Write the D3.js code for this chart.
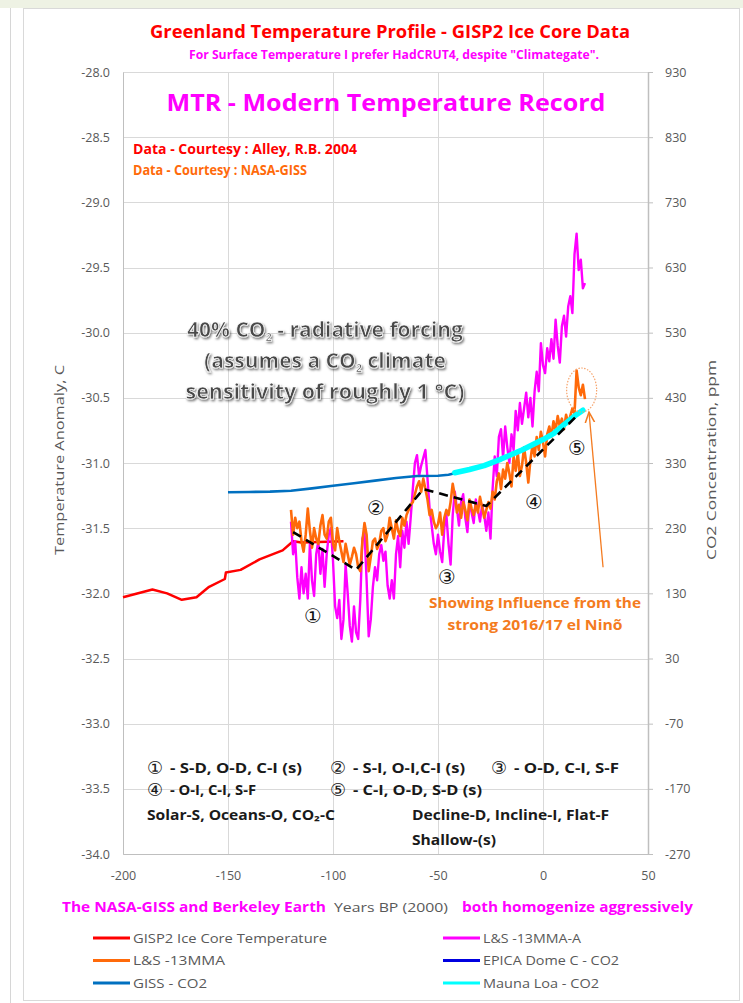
<!DOCTYPE html>
<html>
<head>
<meta charset="utf-8">
<script src="https://cdn.jsdelivr.net/npm/d3@7"></script>
<style>
  body { margin: 0; background: #fff; }
  svg { display: block; font-family: "Open Sans", "DejaVu Sans", sans-serif; }
</style>
</head>
<body>
<svg id="chart" width="743" height="1003"></svg>
<script>
// GISP2 ice core temperature (Alley 2004)
var gispYears = [-200, -186, -179, -172, -165, -159, -151.5, -151, -144, -135, -124, -119, -115, -95];
var gispTemp  = [-32.03, -31.97, -32.0, -32.05, -32.03, -31.95, -31.89, -31.84, -31.82, -31.74, -31.67, -31.60, -31.61, -31.60];

// L&S 13 month moving average, yearly readings from -120 to 20
var lsYears = d3.range(-120, 21);
var ls13mma = [
  -31.36,-31.55,-31.42,-31.50,-31.45,-31.60,-31.68,-31.55,-31.35,-31.52,
  -31.65,-31.50,-31.58,-31.62,-31.48,-31.40,-31.55,-31.58,-31.45,-31.42,
  -31.62,-31.67,-31.50,-31.60,-31.68,-31.76,-31.62,-31.70,-31.78,-31.72,
  -31.65,-31.70,-31.80,-31.83,-31.60,-31.46,-31.55,-31.83,-31.72,-31.60,
  -31.58,-31.66,-31.62,-31.52,-31.50,-31.60,-31.55,-31.42,-31.50,-31.58,
  -31.44,-31.52,-31.56,-31.42,-31.48,-31.40,-31.36,-31.32,-31.30,-31.24,
  -31.18,-31.14,-31.22,-31.12,-31.20,-31.28,-31.40,-31.36,-31.45,-31.50,
  -31.47,-31.38,-31.55,-31.42,-31.36,-31.40,-31.30,-31.16,-31.25,-31.38,
  -31.32,-31.42,-31.30,-31.36,-31.44,-31.28,-31.35,-31.40,-31.32,-31.38,
  -31.26,-31.34,-31.42,-31.36,-31.30,-31.35,-31.22,-31.28,-31.14,-31.08,
  -31.20,-31.05,-31.12,-31.00,-31.08,-31.18,-30.95,-31.06,-30.92,-31.10,
  -31.02,-30.88,-31.00,-31.15,-30.98,-30.86,-30.95,-30.80,-30.90,-30.76,
  -30.84,-30.95,-30.78,-30.72,-30.80,-30.68,-30.75,-30.64,-30.72,-30.66,
  -30.74,-30.63,-30.70,-30.64,-30.58,-30.62,-30.29,-30.42,-30.48,-30.40,
  -30.51
];
var ls13mmaA = [
  -31.45,-31.70,-31.60,-31.88,-32.04,-31.80,-32.00,-31.85,-32.04,-31.62,
  -31.90,-32.02,-31.70,-31.60,-31.85,-31.66,-31.95,-31.70,-31.55,-31.50,
  -31.75,-32.10,-32.19,-32.05,-32.35,-32.20,-31.78,-32.00,-32.25,-32.37,
  -32.10,-32.30,-32.35,-32.05,-31.58,-31.53,-31.90,-32.33,-32.20,-31.95,
  -31.80,-31.90,-31.70,-31.63,-31.75,-31.68,-31.94,-32.04,-31.90,-32.04,
  -31.70,-31.56,-31.80,-31.52,-31.65,-31.45,-31.62,-31.42,-31.20,-31.00,
  -30.94,-31.10,-31.02,-30.96,-30.90,-31.12,-31.35,-31.48,-31.62,-31.70,
  -31.55,-31.68,-31.76,-31.50,-31.40,-31.62,-31.78,-31.40,-31.22,-31.35,
  -31.48,-31.30,-31.24,-31.42,-31.53,-31.30,-31.38,-31.46,-31.28,-31.36,
  -31.45,-31.32,-31.40,-31.52,-31.38,-31.58,-31.20,-30.95,-31.10,-30.80,
  -30.74,-30.96,-30.72,-30.88,-31.00,-30.78,-30.90,-30.60,-30.75,-30.54,
  -30.70,-30.58,-30.46,-30.65,-30.50,-30.72,-30.45,-30.30,-30.45,-30.08,
  -30.25,-30.31,-30.12,-30.22,-30.05,-30.20,-29.90,-30.10,-30.23,-29.95,
  -29.87,-30.03,-29.80,-29.72,-29.85,-29.40,-29.24,-29.52,-29.44,-29.66,
  -29.62
];

// CO2 (right axis, ppm)
var gissYears = [-150, -140, -130, -120, -110, -100, -90, -80, -70, -60, -50, -45, -41];
var gissCO2   = [285, 285.5, 286, 287.5, 291, 295, 299, 303, 307, 310, 310.5, 312, 315];
var maunaYears = [-42, -35, -28, -20, -10, 0, 5, 10, 15, 19];
var maunaCO2   = [315, 320, 326, 336, 350, 366, 375, 389, 402, 411];

// dashed trend
var trendYears = [-119, -89, -57, -27, 16];
var trendTemp  = [-31.53, -31.82, -31.20, -31.33, -30.64];

// axes
var xTicks = [-200, -150, -100, -50, 0, 50];
var yTicks = d3.range(-34, -27.99, 0.5);
var y2Ticks = d3.range(-270, 931, 100);

// legend
var legendNames  = ["GISP2 Ice Core Temperature", "L&S -13MMA-A", "L&S -13MMA", "EPICA Dome C - CO2", "GISS - CO2", "Mauna Loa - CO2"];
var legendColors = ["#ff0000", "#ff00ff", "#ff6a0a", "#0000e0", "#0070c0", "#00ffff"];

var svg = d3.select("#chart");

var x = d3.scaleLinear().domain([-200, 50]).range([123, 648]);
var y = d3.scaleLinear().domain([-34, -28]).range([854, 72]);
var y2 = d3.scaleLinear().domain([-270, 930]).range([854, 72]);

// stretch text to a measured width
function fit(sel, w) {
  return sel.attr("textLength", w).attr("lengthAdjust", "spacingAndGlyphs");
}

// page frame
svg.append("rect").attr("x", 0).attr("y", 0).attr("width", 743).attr("height", 8).attr("fill", "#eef2e4");
svg.append("line").attr("x1", 10.5).attr("x2", 10.5).attr("y1", 8).attr("y2", 1003).attr("stroke", "#d6d6d6");
svg.append("rect").attr("x", 23.5).attr("y", 8.5).attr("width", 716).attr("height", 992)
  .attr("fill", "#fff").attr("stroke", "#d9d9d9");

// shadow filter for the big note
var defs = svg.append("defs");
var f = defs.append("filter").attr("id", "shadow").attr("x", "-10%").attr("y", "-30%").attr("width", "120%").attr("height", "160%");
f.append("feDropShadow").attr("dx", 1.2).attr("dy", 1.8).attr("stdDeviation", 1.1)
  .attr("flood-color", "#000").attr("flood-opacity", 0.55);
defs.append("marker").attr("id", "arrow").attr("viewBox", "0 0 10 10").attr("refX", 9).attr("refY", 5)
  .attr("markerWidth", 9).attr("markerHeight", 9).attr("orient", "auto")
  .append("path").attr("d", "M0,1 L9,5 L0,9").attr("fill", "none").attr("stroke", "#f47b20").attr("stroke-width", 1.3);

// gridlines
svg.append("g").selectAll("line").data(yTicks).join("line")
  .attr("x1", 123).attr("x2", 648).attr("y1", d => Math.round(y(d)) + 0.5).attr("y2", d => Math.round(y(d)) + 0.5)
  .attr("stroke", "#d9d9d9");
svg.append("g").selectAll("line").data(xTicks).join("line")
  .attr("x1", d => Math.round(x(d)) + 0.5).attr("x2", d => Math.round(x(d)) + 0.5).attr("y1", 72).attr("y2", 854)
  .attr("stroke", "#d9d9d9");

// axes
var gl = svg.append("g").attr("transform", "translate(123,0)")
  .call(d3.axisLeft(y).tickValues(yTicks).tickFormat(d => d.toFixed(1)).tickSize(0).tickPadding(13));
var gr = svg.append("g").attr("transform", "translate(648,0)")
  .call(d3.axisRight(y2).tickValues(y2Ticks).tickFormat(d => d).tickSizeInner(5).tickSizeOuter(0).tickPadding(12));
var gb = svg.append("g").attr("transform", "translate(0,854)")
  .call(d3.axisBottom(x).tickValues(xTicks).tickFormat(d => d).tickSize(0).tickPadding(17));
[gl, gr, gb].forEach(function(g) {
  g.select(".domain").attr("stroke", "#bfbfbf");
  g.selectAll(".tick line").attr("stroke", "#bfbfbf");
  g.selectAll("text").attr("fill", "#595959").style("font-size", "12.5px").style("font-family", "'Open Sans', sans-serif");
});
gr.select(".domain").attr("stroke-width", 1.5);

// axis titles
svg.append("text").attr("transform", "translate(64,460) rotate(-90)").attr("text-anchor", "middle")
  .attr("fill", "#595959").style("font-size", "13px").text("Temperature Anomaly, C")
  .call(fit, 190);
svg.append("text").attr("transform", "translate(716,460) rotate(-90)").attr("text-anchor", "middle")
  .attr("fill", "#595959").style("font-size", "13px").text("CO2 Concentration, ppm")
  .call(fit, 200);

// series
var plot = svg.append("g");
function drawLine(xs, vs, ys, color, w) {
  var pts = xs.map((d, i) => [d, vs[i]]);
  return plot.append("path").datum(pts)
    .attr("fill", "none").attr("stroke", color).attr("stroke-width", w).attr("stroke-linejoin", "round")
    .attr("d", d3.line().x(d => x(d[0])).y(d => ys(d[1])));
}
drawLine(gispYears, gispTemp, y, "#ff0000", 2.5);
drawLine(lsYears, ls13mmaA, y, "#ff00ff", 2.4);
drawLine(lsYears, ls13mma, y, "#ff6a0a", 2.6);
drawLine(gissYears, gissCO2, y2, "#0070c0", 2.6);
drawLine(maunaYears, maunaCO2, y2, "#00ffff", 5.5).attr("stroke-linecap", "round");
drawLine(trendYears, trendTemp, y, "#000", 2.6).attr("stroke-dasharray", "9,6");

// el Nino highlight
plot.append("ellipse").attr("cx", x(18.4)).attr("cy", y(-30.44)).attr("rx", 15).attr("ry", 22)
  .attr("fill", "none").attr("stroke", "#f6a26a").attr("stroke-width", 1.2).attr("stroke-dasharray", "1.5,1.5");
plot.append("line").attr("x1", x(28.6)).attr("y1", y(-31.80)).attr("x2", x(21.9)).attr("y2", y(-30.61))
  .attr("stroke", "#f47b20").attr("stroke-width", 1.3).attr("marker-end", "url(#arrow)");

// circled phase numbers
var circ = [["①", -109.5, -32.17], ["②", -79.5, -31.34], ["③", -45.7, -31.87], ["④", -4.3, -31.30], ["⑤", 16.2, -30.88]];
plot.selectAll(".circ").data(circ).join("text").attr("class", "circ")
  .attr("x", d => x(d[1])).attr("y", d => y(d[2])).attr("dy", "0.36em").attr("text-anchor", "middle")
  .style("font-family", "'DejaVu Sans', sans-serif").style("font-size", "20px").attr("fill", "#111")
  .text(d => d[0]);

// titles
svg.append("text").attr("x", 390).attr("y", 38).attr("text-anchor", "middle").attr("fill", "#ff0000")
  .style("font-size", "17px").style("font-weight", "bold")
  .text("Greenland Temperature Profile - GISP2 Ice Core Data").call(fit, 480);
svg.append("text").attr("x", 394).attr("y", 59).attr("text-anchor", "middle").attr("fill", "#ff00ff")
  .style("font-size", "11.5px").style("font-weight", "bold")
  .text("For Surface Temperature I prefer HadCRUT4, despite \"Climategate\".").call(fit, 410);
svg.append("text").attr("x", 386).attr("y", 111).attr("text-anchor", "middle").attr("fill", "#ff00ff")
  .style("font-size", "24px").style("font-weight", "bold")
  .text("MTR - Modern Temperature Record").call(fit, 439);
svg.append("text").attr("x", 133).attr("y", 154).attr("fill", "#ff0000")
  .style("font-size", "13.5px").style("font-weight", "bold")
  .text("Data - Courtesy : Alley, R.B. 2004").call(fit, 224);
svg.append("text").attr("x", 133).attr("y", 175).attr("fill", "#ff6a0a")
  .style("font-size", "13.5px").style("font-weight", "bold")
  .text("Data - Courtesy : NASA-GISS").call(fit, 174);

// CO2 forcing note
var note = svg.append("g").attr("filter", "url(#shadow)")
  .style("font-size", "21px").style("font-weight", "bold").attr("fill", "#4a4a4a")
  .attr("stroke", "#fff").attr("stroke-width", 0.7).attr("paint-order", "fill").attr("text-anchor", "middle");
var n1 = note.append("text").attr("x", 325).attr("y", 337);
n1.append("tspan").text("40% CO");
n1.append("tspan").attr("dy", 4).style("font-size", "11px").text("2");
n1.append("tspan").attr("dy", -4).text("  - radiative forcing");
var n2 = note.append("text").attr("x", 325).attr("y", 368);
n2.append("tspan").text("(assumes a CO");
n2.append("tspan").attr("dy", 4).style("font-size", "11px").text("2");
n2.append("tspan").attr("dy", -4).text(" climate");
note.append("text").attr("x", 325).attr("y", 399).text("sensitivity of roughly 1 °C)").call(fit, 279);

// el Nino note
svg.append("text").attr("x", 535).attr("y", 608).attr("text-anchor", "middle").attr("fill", "#f47b20")
  .style("font-size", "14.5px").style("font-weight", "bold").text("Showing Influence from the").call(fit, 212);
svg.append("text").attr("x", 535).attr("y", 630).attr("text-anchor", "middle").attr("fill", "#f47b20")
  .style("font-size", "14.5px").style("font-weight", "bold").text("strong 2016/17 el Ninõ").call(fit, 175);

// phase key: circled digit + description
var keyDigits = [["①", 147, 773], ["②", 330, 773], ["③", 491, 773], ["④", 147, 795], ["⑤", 330, 795]];
var keyTexts = [
  ["- S-D, O-D, C-I (s)", 170, 773, 132],
  ["- S-I, O-I,C-I (s)", 353, 773, 112],
  ["- O-D, C-I, S-F", 514, 773, 105],
  ["- O-I, C-I, S-F", 170, 795, 86],
  ["- C-I, O-D, S-D (s)", 353, 795, 129],
  ["Solar-S, Oceans-O, CO₂-C", 147, 820, 188],
  ["Decline-D, Incline-I, Flat-F", 412, 820, 197],
  ["Shallow-(s)", 412, 845, 84]
];
svg.append("g").selectAll("text").data(keyDigits).join("text")
  .attr("x", d => d[1]).attr("y", d => d[2] + 1).attr("fill", "#1a1a1a")
  .style("font-family", "'DejaVu Sans', sans-serif").style("font-size", "18px")
  .text(d => d[0]);
svg.append("g").selectAll("text").data(keyTexts).join("text")
  .attr("x", d => d[1]).attr("y", d => d[2]).attr("fill", "#1a1a1a")
  .style("font-size", "14px").style("font-weight", "bold")
  .text(d => d[0])
  .attr("textLength", d => d[3]).attr("lengthAdjust", "spacingAndGlyphs");

// bottom caption line
svg.append("text").attr("x", 62).attr("y", 912).attr("fill", "#ff00ff")
  .style("font-size", "14.5px").style("font-weight", "bold").text("The NASA-GISS and Berkeley Earth").call(fit, 264);
svg.append("text").attr("x", 334).attr("y", 912).attr("fill", "#595959")
  .style("font-size", "13.5px").text("Years BP (2000)").call(fit, 114);
svg.append("text").attr("x", 462).attr("y", 912).attr("fill", "#ff00ff")
  .style("font-size", "14.5px").style("font-weight", "bold").text("both homogenize aggressively").call(fit, 231);

// legend
var legW = [194, 98, 92, 136, 74, 116];
var leg = svg.append("g").selectAll("g").data(legendNames).join("g")
  .attr("transform", (d, i) => "translate(" + (i % 2 ? 443 : 93) + "," + (938 + Math.floor(i / 2) * 22.5) + ")");
leg.append("line").attr("x1", 0).attr("x2", 37).attr("y1", 0).attr("y2", 0)
  .attr("stroke", (d, i) => legendColors[i]).attr("stroke-width", 3);
leg.append("text").attr("x", 40).attr("y", 4.5).attr("fill", "#595959").style("font-size", "13.5px")
  .text(d => d).attr("textLength", (d, i) => legW[i]).attr("lengthAdjust", "spacingAndGlyphs");
</script>
</body>
</html>
